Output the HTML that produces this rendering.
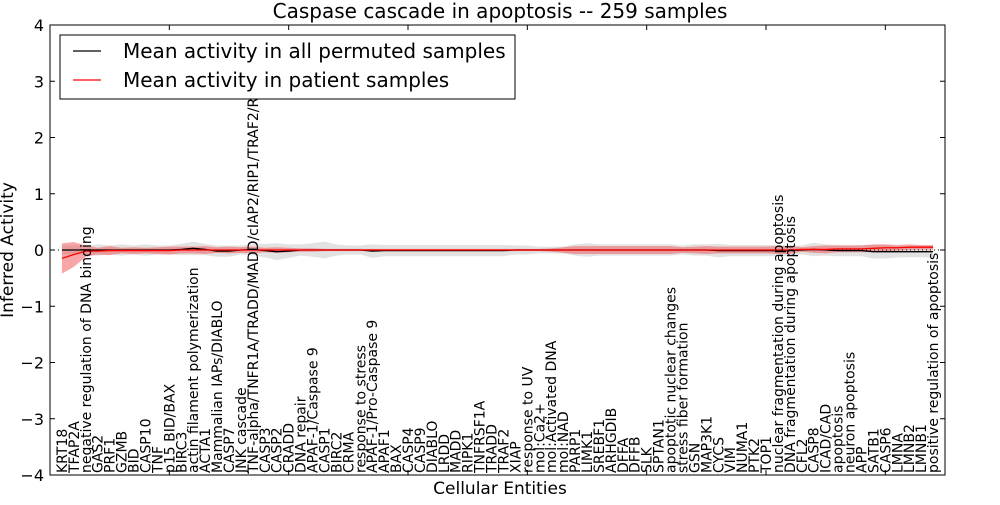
<!DOCTYPE html>
<html><head><meta charset="utf-8"><style>
body{margin:0;background:#fff;}
svg text{font-family:"DejaVu Sans","Liberation Sans",sans-serif;fill:#000;}
</style></head><body>
<svg id="chart" width="1000" height="500"></svg>
<script>
const categories=["KRT18","TFAP2A","negative regulation of DNA binding","GAS2","PRF1","GZMB","BID","CASP10","TNF","p15 BID/BAX","BIRC3","actin filament polymerization","ACTA1","Mammalian IAPs/DIABLO","CASP7","JNK cascade","TNF-alpha/TNFR1A/TRADD/MADD/cIAP2/RIP1/TRAF2/RIP/FADD","CASP3","CASP2","CRADD","DNA repair","APAF-1/Caspase 9","CASP1","BIRC2","CRMA","response to stress","APAF-1/Pro-Caspase 9","APAF1","BAX","CASP4","CASP9","DIABLO","LRDD","MADD","RIPK1","TNFRSF1A","TRADD","TRAF2","XIAP","response to UV","mol:Ca2+","mol:Activated DNA","mol:NAD","PARP1","LIMK1","SREBF1","ARHGDIB","DFFA","DFFB","SLK","SPTAN1","apoptotic nuclear changes","stress fiber formation","GSN","MAP3K1","CYCS","VIM","NUMA1","PTK2","TOP1","nuclear fragmentation during apoptosis","DNA fragmentation during apoptosis","CFL2","CASP8","ICAD/CAD","apoptosis","neuron apoptosis","APP","SATB1","CASP6","LMNA","LMNB2","LMNB1","positive regulation of apoptosis"];
const permMean=[0,0,0,0,0,0,0,0,0,0,0.01,0.03,0.01,-0.02,-0.02,0,0.01,-0.01,-0.03,-0.02,0,0,0,0,0,0,-0.02,-0.01,-0.01,-0.01,-0.01,-0.01,-0.01,-0.01,-0.01,-0.01,-0.01,-0.01,0,0,0,0,0,0,0,0,0,0,0,0,0,0,0,0,0,-0.01,-0.01,-0.01,-0.01,-0.01,-0.01,-0.01,0,0.01,0,-0.01,-0.01,-0.01,-0.03,-0.03,-0.03,-0.03,-0.03,-0.03];
const permSd=[0.08,0.08,0.08,0.1,0.08,0.1,0.08,0.1,0.08,0.08,0.1,0.12,0.1,0.1,0.1,0.08,0.1,0.12,0.15,0.12,0.1,0.12,0.15,0.1,0.08,0.08,0.12,0.1,0.1,0.1,0.1,0.1,0.1,0.1,0.1,0.1,0.1,0.1,0.08,0.08,0.06,0.06,0.06,0.1,0.12,0.1,0.1,0.1,0.1,0.1,0.1,0.1,0.08,0.1,0.1,0.12,0.1,0.1,0.1,0.1,0.1,0.1,0.08,0.12,0.1,0.1,0.1,0.1,0.12,0.12,0.1,0.1,0.1,0.1];
const patMean=[-0.15,-0.08,-0.02,-0.02,-0.01,-0.01,-0.01,-0.01,-0.01,-0.01,0,0,0,0,0,0,0,0,0,0,0,0,0,0,0,0,0,0,0,0,0,0,0,0,0,0,0,0,0,0,0,0,0,0,0,0,0,0,0,0,0,0,0,0,0,0,0,0,0,0,0,0,0.01,0.01,0.01,0.02,0.02,0.02,0.03,0.04,0.04,0.05,0.05,0.05];
const patSd=[0.27,0.22,0.1,0.06,0.08,0.05,0.06,0.05,0.06,0.07,0.06,0.06,0.07,0.05,0.06,0.05,0.06,0.04,0.05,0.04,0.03,0.03,0.02,0.02,0.02,0.02,0.02,0.02,0.02,0.02,0.02,0.02,0.02,0.02,0.02,0.02,0.02,0.02,0.02,0.02,0.02,0.03,0.05,0.07,0.07,0.07,0.07,0.07,0.07,0.07,0.07,0.07,0.05,0.06,0.07,0.06,0.06,0.06,0.06,0.06,0.07,0.07,0.04,0.06,0.07,0.06,0.06,0.06,0.07,0.06,0.05,0.05,0.04,0.04];
const yTicks=[4,3,2,1,0,-1,-2,-3,-4];
const yTickLabels=["4","3","2","1","0","\u22121","\u22122","\u22123","\u22124"];
const xTicks=[0,10,20,30,40,50,60,70];

const NS="http://www.w3.org/2000/svg";
const svg=document.getElementById('chart');
const L=50,R=945,T=25,B=475;
const xs=v=>L+(v/75)*(R-L);
const ys=v=>T+(4-v)/8*(B-T);
function mk(tag,attrs,parent){const e=document.createElementNS(NS,tag);for(const k in attrs)e.setAttribute(k,attrs[k]);(parent||svg).appendChild(e);return e;}
function band(mean,sd,fill,name){
  let d="";
  mean.forEach((m,i)=>{d+=(i?"L":"M")+xs(i+1)+","+ys(m+sd[i]);});
  for(let i=mean.length-1;i>=0;i--)d+="L"+xs(i+1)+","+ys(mean[i]-sd[i]);
  const p=mk('path',{d:d+"Z",fill:fill,stroke:"none"});
  
  
}
function line(mean,color,name){
  const p=mk('polyline',{points:mean.map((m,i)=>xs(i+1)+","+ys(m)).join(" "),fill:"none",stroke:color,"stroke-width":1.3});
  
  
}
band(permMean,permSd,"rgba(190,190,190,0.45)","permuted-band");
band(patMean,patSd,"rgba(240,80,80,0.5)","patient-band");
const z=mk('line',{x1:L,x2:R,y1:ys(0),y2:ys(0),stroke:"#000","stroke-dasharray":"1,3","stroke-width":1});


line(permMean,"#000","permuted-mean-line");
line(patMean,"#f00","patient-mean-line");

categories.forEach((c,i)=>{
  const t=mk('text',{transform:`translate(${xs(i+1)+5},${B-2}) rotate(-90)`,"font-size":"14"});
  t.textContent=c;
  
  
});
const fr=mk('rect',{x:L,y:T,width:R-L,height:B-T,fill:"none",stroke:"#000","stroke-width":1});


yTicks.forEach((v,i)=>{
  mk('line',{x1:L,x2:L+5,y1:ys(v),y2:ys(v),stroke:"#000"});
  mk('line',{x1:R,x2:R-5,y1:ys(v),y2:ys(v),stroke:"#000"});
  const t=mk('text',{x:L-6,y:ys(v)+6,"font-size":"16","text-anchor":"end"});
  t.textContent=yTickLabels[i];
  
  
});
xTicks.forEach(v=>{
  mk('line',{x1:xs(v),x2:xs(v),y1:T,y2:T+5,stroke:"#000"});
  mk('line',{x1:xs(v),x2:xs(v),y1:B,y2:B-5,stroke:"#000"});
});
let t=mk('text',{x:500,y:18,"font-size":"20","text-anchor":"middle"});t.textContent="Caspase cascade in apoptosis -- 259 samples";


t=mk('text',{x:500,y:494,"font-size":"17","text-anchor":"middle"});t.textContent="Cellular Entities";


t=mk('text',{transform:"translate(13,250) rotate(-90)","font-size":"17","text-anchor":"middle"});t.textContent="Inferred Activity";


const lg=mk('g',{});


mk('rect',{x:60,y:35,width:455,height:64,fill:"#fff",stroke:"#000"},lg);
mk('line',{x1:73,x2:101,y1:51,y2:51,stroke:"#000","stroke-width":1.3},lg);
mk('line',{x1:73,x2:101,y1:80,y2:80,stroke:"#f00","stroke-width":1.3},lg);
t=mk('text',{x:123,y:58,"font-size":"20"},lg);t.textContent="Mean activity in all permuted samples";


t=mk('text',{x:123,y:87,"font-size":"20"},lg);t.textContent="Mean activity in patient samples";


</script>
</body></html>
